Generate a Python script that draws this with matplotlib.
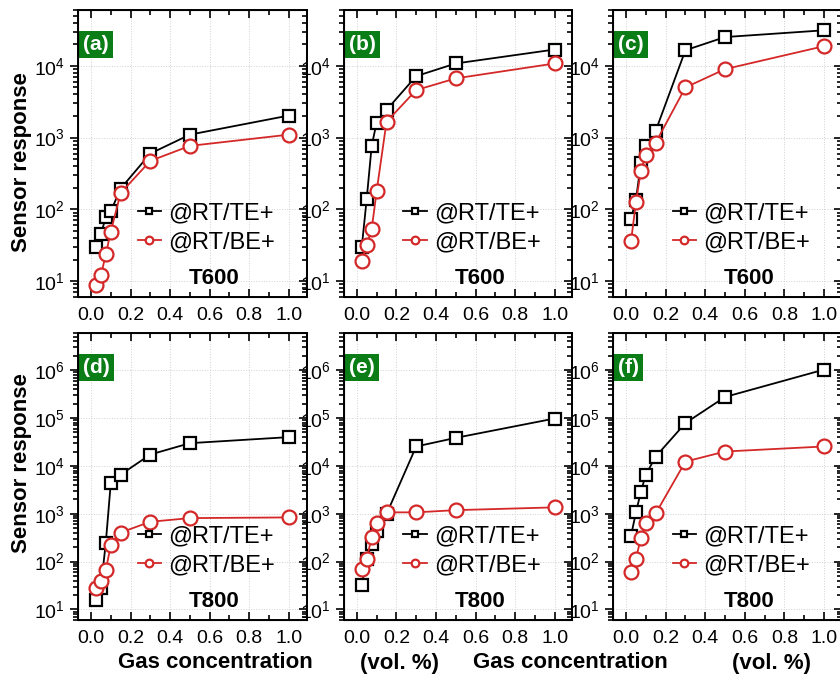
import math
import matplotlib
matplotlib.use('Agg')
import matplotlib.pyplot as plt
from matplotlib.ticker import LogLocator, FixedLocator, FuncFormatter, NullFormatter

plt.rcParams['font.family'] = ['Liberation Sans', 'DejaVu Sans']
plt.rcParams['mathtext.default'] = 'regular'

# gas concentration (vol. %)
conc = [0.025, 0.05, 0.075, 0.1, 0.15, 0.3, 0.5, 1.0]

# sensor response, T600
te_a = [30, 45, 78, 94, 195, 600, 1100, 2030]
be_a = [8.8, 12, 23.5, 49, 169, 474, 767, 1100]
te_b = [30, 141, 767, 1620, 2430, 7190, 10800, 16900]
be_b = [19, 31.6, 53, 178, 1660, 4600, 6690, 10800]
te_c = [74, 136, 440, 774, 1250, 16500, 25200, 31300]
be_c = [36, 125, 347, 575, 853, 5000, 9000, 18800]

# sensor response, T800
te_d = [15.5, 28.5, 250, 4330, 6580, 17300, 29900, 40000]
be_d = [28.5, 39, 66, 220, 405, 680, 811, 838]
te_e = [33, 112, 231, 440, 985, 25500, 38600, 98000]
be_e = [69, 112, 329, 627, 1070, 1070, 1190, 1360]
te_f = [345, 1070, 2900, 6580, 15700, 78500, 276000, 1030000]
be_f = [61, 116, 309, 637, 1017, 12300, 20000, 25500]

panels = [
    ('(a)', te_a, be_a, 'T600'),
    ('(b)', te_b, be_b, 'T600'),
    ('(c)', te_c, be_c, 'T600'),
    ('(d)', te_d, be_d, 'T800'),
    ('(e)', te_e, be_e, 'T800'),
    ('(f)', te_f, be_f, 'T800'),
]

lefts = [0.093, 0.4095, 0.730]
bottoms = [0.5619, 0.0855]
RED = '#d42828'
GREEN = '#0b7d16'


def set_log_ticks(a, top):
    if top == 4:
        a.set_ylim(6, 6e4)
    else:
        a.set_ylim(6, 6e6)
    a.yaxis.set_major_locator(FixedLocator([10.0 ** k for k in range(1, top + 1)]))
    a.yaxis.set_minor_locator(LogLocator(base=10, subs=range(2, 10), numticks=20))
    a.yaxis.set_minor_formatter(NullFormatter())


fig = plt.figure(figsize=(8.4, 6.78), dpi=100)

for i, (tag, te, be, temp) in enumerate(panels):
    row, col = divmod(i, 3)
    top = 4 if row == 0 else 6
    ax = fig.add_axes([lefts[col], bottoms[row], 0.272, 0.4233])
    ax.plot(conc, te, '-s', color='black', lw=1.3, ms=9, mfc='white',
            mec='black', mew=1.6, label='@RT/TE+', zorder=3)
    ax.plot(conc, be, '-o', color=RED, lw=1.3, ms=10, mfc='white',
            mec=RED, mew=1.6, label='@RT/BE+', zorder=3)
    ax.set_yscale('log')
    ax.set_xlim(-0.065, 1.09)
    set_log_ticks(ax, top)
    ax.yaxis.set_major_formatter(FuncFormatter(lambda v, p: r'$10^{%d}$' % round(math.log10(v))))
    ax.set_xticks([0.0, 0.2, 0.4, 0.6, 0.8, 1.0])
    ax.set_xticks([0.1, 0.3, 0.5, 0.7, 0.9], minor=True)
    ax.tick_params(which='both', direction='in', top=True, right=False, labelsize=14, width=1.2)
    ax.tick_params(axis='x', which='major', pad=7)
    ax.tick_params(axis='y', which='both', direction='out')
    ax.tick_params(which='major', length=6)
    ax.tick_params(which='minor', length=3.5)
    for s in ax.spines.values():
        s.set_linewidth(1.4)
    ax.grid(True, which='major', color='#d0d0d0', ls=':', lw=0.7)

    # inward ticks on the right spine
    ax2 = ax.twinx()
    ax2.set_yscale('log')
    set_log_ticks(ax2, top)
    ax2.yaxis.set_major_formatter(NullFormatter())
    ax2.tick_params(which='both', direction='in', width=1.2, labelright=False)
    ax2.tick_params(which='major', length=6)
    ax2.tick_params(which='minor', length=3.5)
    ax2.spines['right'].set_linewidth(1.4)

    ax.text(0.022, 0.88, tag, transform=ax.transAxes, color='white',
            fontsize=15, fontweight='bold', va='center', ha='left',
            bbox=dict(boxstyle='square,pad=0.2', fc=GREEN, ec='none'))
    ax.legend(loc='center left', bbox_to_anchor=(0.26, 0.24), frameon=False,
              fontsize=17, handlelength=1.0, handletextpad=0.3,
              labelspacing=0.3, markerscale=0.55, borderpad=0, borderaxespad=0)
    ax.text(0.595, 0.066, temp, transform=ax.transAxes, fontsize=16,
            fontweight='bold', ha='center', va='center')

fig.text(0.026, 1 - 162 / 678, 'Sensor response', rotation=90, fontsize=16,
         fontweight='bold', ha='center', va='center')
fig.text(0.026, 1 - 463 / 678, 'Sensor response', rotation=90, fontsize=16,
         fontweight='bold', ha='center', va='center')

for xc, txt in [(0.256, 'Gas concentration'), (0.475, '(vol. %)'),
                (0.679, 'Gas concentration'), (0.919, '(vol. %)')]:
    fig.text(xc, 1 - 663 / 678, txt, fontsize=16, fontweight='bold',
             ha='center', va='center')

plt.savefig('out.png', dpi=100)
